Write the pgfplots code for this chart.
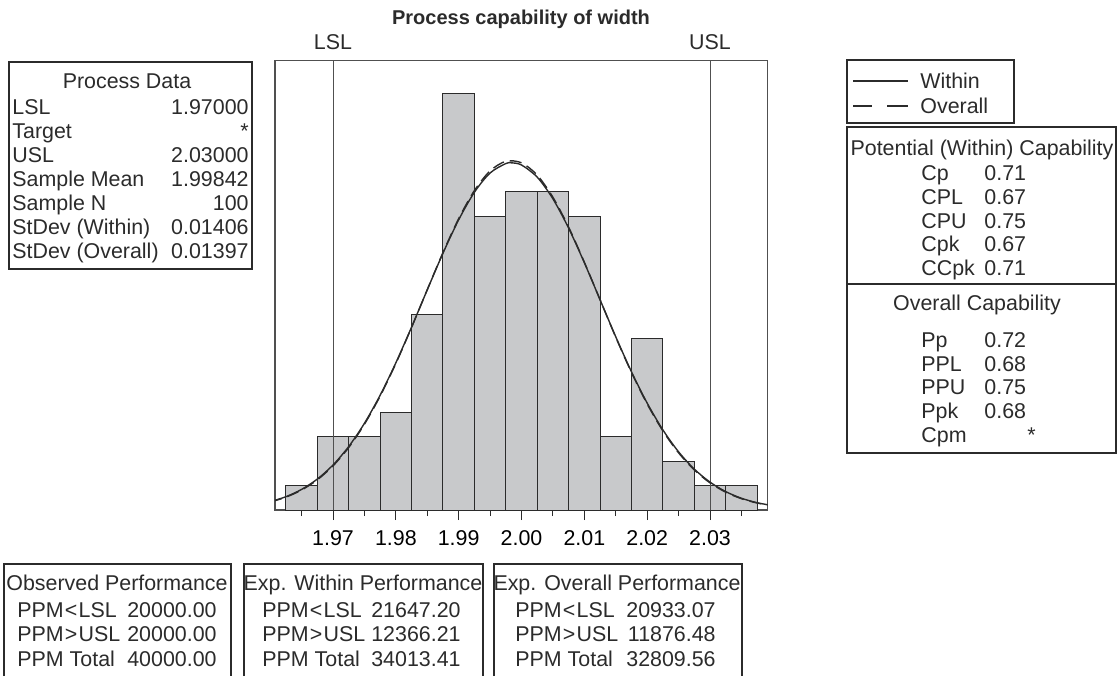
\documentclass[border=0pt]{standalone}
\usepackage{fontspec}
\setmainfont{Liberation Sans}
\usepackage{pgfplots}
\pgfplotsset{compat=1.18}

\definecolor{ink}{HTML}{2B2B2B}
\definecolor{barfill}{HTML}{C8C9CB}
\definecolor{framec}{HTML}{505050}
\newcommand\f{\fontsize{10.7}{12.8}\selectfont}

\begin{document}
\begin{tikzpicture}
\begin{scope}[x=0.5pt,y=-0.5pt]
\useasboundingbox (0,0) rectangle (1118,674);
\end{scope}

\begin{axis}[
  at={(137.5pt,-255pt)}, anchor=south west,
  scale only axis, width=246.35pt, height=224.65pt,
  xmin=1.96077, xmax=2.03918, ymin=0, ymax=18.36,
  axis line style={framec, line width=0.6pt},
  ytick=\empty,
  xtick={1.97,1.98,1.99,2.00,2.01,2.02,2.03},
  minor xtick={1.965,1.975,1.985,1.995,2.005,2.015,2.025,2.035},
  xtick pos=bottom, tick align=outside,
  major tick length=5pt, minor tick length=3pt,
  tick style={ink, line width=0.5pt},
  xticklabel style={font=\f, yshift=-1.5pt},
  /pgf/number format/fixed, /pgf/number format/fixed zerofill,
  /pgf/number format/precision=2,
  /pgf/number format/assume math mode=true,
]
% histogram counts, bins of width 0.005
\addplot[ybar, bar width=0.005, fill=barfill, draw=ink, line width=0.5pt] coordinates {
(1.965,1) (1.970,3) (1.975,3) (1.980,4) (1.985,8) (1.990,17) (1.995,12) (2.000,13)
(2.005,13) (2.010,12) (2.015,3) (2.020,7) (2.025,2) (2.030,1) (2.035,1)
};
% specification limits
\addplot[framec, line width=0.5pt] coordinates {(1.97,0) (1.97,18.36)};
\addplot[framec, line width=0.5pt] coordinates {(2.03,0) (2.03,18.36)};
% within
\addplot[ink, line width=0.7pt, smooth] coordinates {
(1.9600,0.339) (1.9625,0.543) (1.9650,0.842) (1.9675,1.264) (1.9700,1.840)
(1.9725,2.594) (1.9750,3.543) (1.9775,4.690) (1.9800,6.014) (1.9825,7.473)
(1.9850,8.997) (1.9875,10.493) (1.9900,11.858) (1.9925,12.984) (1.9950,13.773)
(1.9975,14.157) (1.99842,14.187) (2.0000,14.098) (2.0025,13.602) (2.0050,12.715)
(2.0075,11.517) (2.0100,10.106) (2.0125,8.593) (2.0150,7.078) (2.0175,5.649)
(2.0200,4.369) (2.0225,3.273) (2.0250,2.376) (2.0275,1.671) (2.0300,1.139)
(2.0325,0.752) (2.0350,0.481) (2.0375,0.298) (2.0400,0.179)
};
% overall
\addplot[ink, line width=0.7pt, smooth, dash pattern=on 6pt off 3pt] coordinates {
(1.9600,0.325) (1.9625,0.524) (1.9650,0.816) (1.9675,1.233) (1.9700,1.803)
(1.9725,2.553) (1.9750,3.503) (1.9775,4.654) (1.9800,5.986) (1.9825,7.459)
(1.9850,9.002) (1.9875,10.520) (1.9900,11.908) (1.9925,13.053) (1.9950,13.858)
(1.9975,14.248) (2.0000,14.188) (2.0025,13.683) (2.0050,12.780)
(2.0075,11.560) (2.0100,10.126) (2.0125,8.593) (2.0150,7.060) (2.0175,5.619)
(2.0200,4.331) (2.0225,3.232) (2.0250,2.337) (2.0275,1.636) (2.0300,1.109)
(2.0325,0.728) (2.0350,0.463) (2.0375,0.285) (2.0400,0.170)
};
\end{axis}

\begin{scope}[x=0.5pt,y=-0.5pt,every node/.style={font=\f,inner sep=0pt,text=ink}]
% title and limits
\node[anchor=base,font=\fontsize{10}{12}\selectfont\bfseries] at (521,24) {Process capability of width};
\node[anchor=base] at (333,49) {LSL};
\node[anchor=base] at (710,49) {USL};

% process data
\draw[ink,line width=0.6pt] (9,62) rectangle (252,269);
\node[anchor=base] at (127,88) {Process Data};
\foreach \y/\a/\b in {114/LSL/1.97000, 138/Target/*, 162/USL/2.03000,
  186/Sample Mean/1.99842, 210/Sample N/100, 234/StDev (Within)/0.01406,
  258/StDev (Overall)/0.01397}{
  \node[anchor=base west] at (12,\y) {\a};
  \node[anchor=base east] at (249,\y) {\b};
}

% legend
\draw[ink,line width=0.6pt] (847,60) rectangle (1014,123);
\draw[ink,line width=0.6pt] (853,81) -- (908,81);
\draw[ink,line width=0.6pt] (853,106) -- (872,106) (887,106) -- (908,106);
\node[anchor=base west] at (920,88) {Within};
\node[anchor=base west] at (920,113) {Overall};

% capability
\draw[ink,line width=0.6pt] (847,127) rectangle (1116,453);
\draw[ink,line width=0.6pt] (847,284) -- (1116,284);
\node[anchor=base] at (982,155) {Potential (Within) Capability};
\foreach \y/\a/\b in {180/Cp/0.71, 204/CPL/0.67, 228/CPU/0.75, 251/Cpk/0.67, 275/CCpk/0.71}{
  \node[anchor=base west] at (921,\y) {\a};
  \node[anchor=base west] at (984,\y) {\b};
}
\node[anchor=base] at (977,310) {Overall Capability};
\foreach \y/\a/\b in {347/Pp/0.72, 371/PPL/0.68, 394/PPU/0.75, 418/Ppk/0.68}{
  \node[anchor=base west] at (921,\y) {\a};
  \node[anchor=base west] at (984,\y) {\b};
}
\node[anchor=base west] at (921,442) {Cpm};
\node[anchor=base east] at (1036,442) {*};

% performance boxes
\draw[ink,line width=0.6pt] (4,676) |- (231,564) -- (231,676);
\draw[ink,line width=0.6pt] (244,676) |- (483,564) -- (483,676);
\draw[ink,line width=0.6pt] (494,676) |- (742,564) -- (742,676);
\node[anchor=base] at (117,590) {Observed Performance};
\node[anchor=base] at (363,590) {Exp. Within Performance};
\node[anchor=base] at (617,590) {Exp. Overall Performance};
\foreach \x/\e/\a/\b/\c in {17/217/20000.00/20000.00/40000.00,
  262/461/21647.20/12366.21/34013.41, 515/716/20933.07/11876.48/32809.56}{
  \node[anchor=base west] at (\x,617) {PPM\kern0.6pt<\kern0.6pt LSL};
  \node[anchor=base west] at (\x,641) {PPM\kern0.6pt>\kern0.6pt USL};
  \node[anchor=base west] at (\x,666) {PPM Total};
  \node[anchor=base east] at (\e,617) {\a};
  \node[anchor=base east] at (\e,641) {\b};
  \node[anchor=base east] at (\e,666) {\c};
}
\end{scope}
\end{tikzpicture}
\end{document}
